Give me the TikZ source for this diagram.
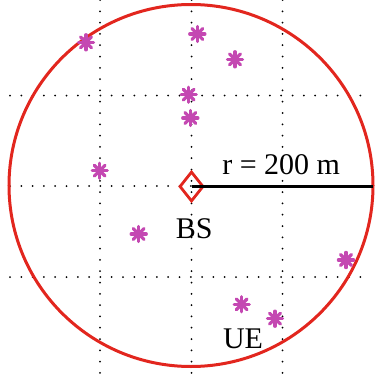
\documentclass[tikz,border=0pt]{standalone}
\usepackage{fontspec}
\setmainfont{Liberation Serif}
\usetikzlibrary{shapes.geometric}
\definecolor{cellred}{RGB}{226,38,30}
\definecolor{uemag}{RGB}{196,72,178}
\tikzset{
  gridline/.style={black, line width=2pt, line cap=round, dash pattern=on 0pt off 11.3pt},
  cellborder/.style={draw=cellred, line width=3pt},
  bsmark/.style={draw=cellred, line width=2.8pt, diamond, minimum width=24pt, minimum height=30pt, inner sep=0pt},
  uestar/.style={circle, inner sep=0pt, minimum size=24pt,
    path picture={
      \foreach \a in {0,45,90,135}{
        \draw[uemag, line width=3.2pt, line cap=round]
          ([shift={(\a:7.6pt)}]path picture bounding box.center) --
          ([shift={(\a+180:7.6pt)}]path picture bounding box.center);
      }
    }},
  lbl/.style={font=\fontsize{30}{32}\selectfont, inner sep=0pt, anchor=base},
  radius/.style={black, line width=3pt}
}
\begin{document}
\begin{tikzpicture}[x=1pt,y=-1pt]
\useasboundingbox (0,0) rectangle (375,375);
% grid
\foreach \x in {100,191.5,282.5}{
  \draw[gridline] (\x,0) -- (\x,375);
}
\foreach \y in {95.5,186,277}{
  \draw[gridline] (10,\y) -- (368,\y);
}
% cell
\coordinate (c) at (191,185.5);
\draw[cellborder] (c) ellipse [x radius=182, y radius=181];
% BS
\node[bsmark] (bs) at (191.5,186.5) {};
\coordinate (edge) at (373,186.5);
\draw[radius] (bs.center) -- (edge);
\node[lbl] (rl) at (281.2,174) {r = 200 m};
\node[lbl] (bsl) at (194.2,238.3) {BS};
% UEs
\node[uestar] (u1) at (86,42.3) {};
\node[uestar] (u2) at (197.3,34) {};
\node[uestar] (u3) at (235,59.3) {};
\node[uestar] (u4) at (188.7,94.7) {};
\node[uestar] (u5) at (190.3,118) {};
\node[uestar] (u6) at (99.7,170.7) {};
\node[uestar] (u7) at (138.7,234) {};
\node[uestar] (u8) at (346,260) {};
\node[uestar] (u9) at (241.7,304.3) {};
\node[uestar] (u10) at (275,318.7) {};
\node[lbl] (uel) at (243,348.3) {UE};
\end{tikzpicture}
\end{document}
